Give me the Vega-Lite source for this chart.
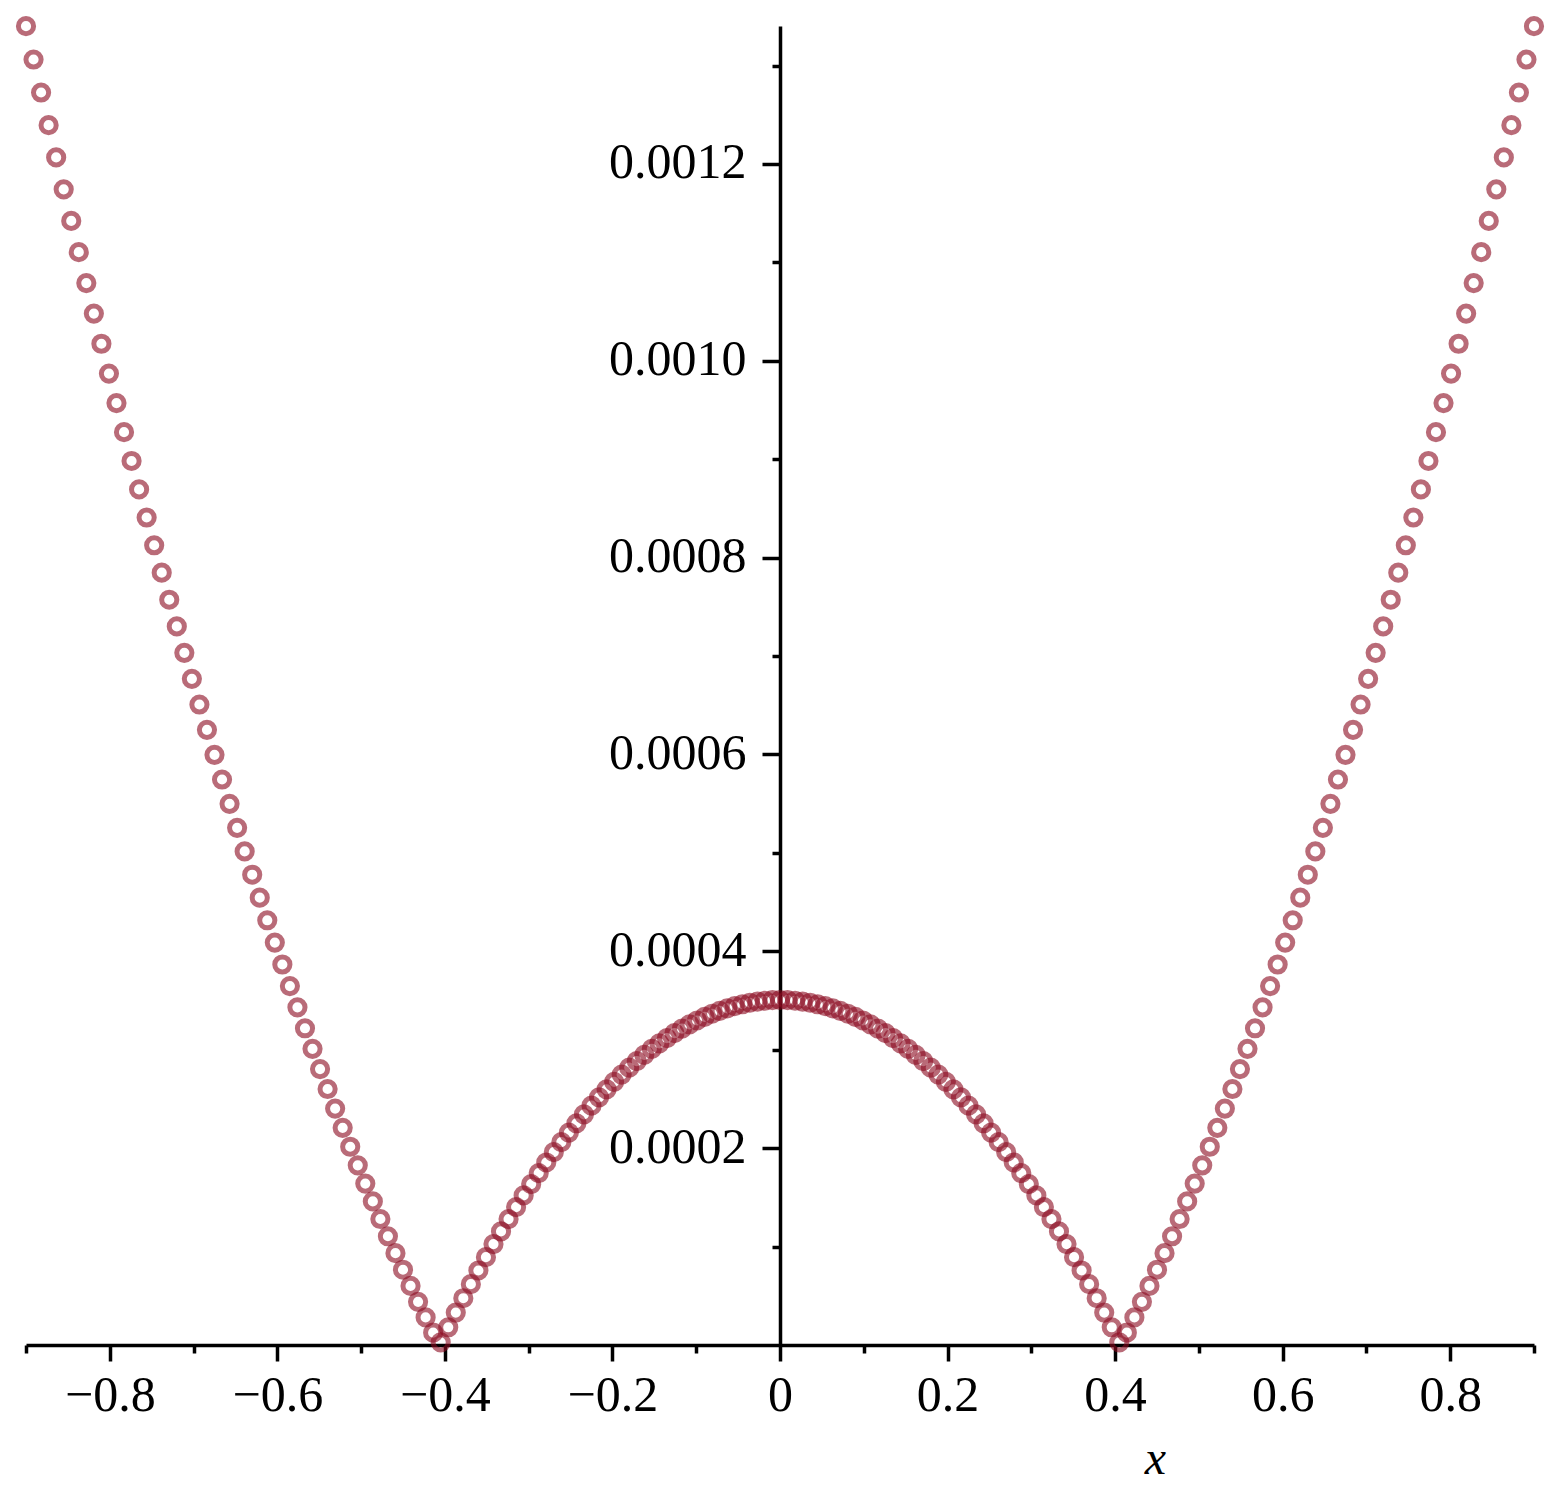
{
  "$schema": "https://vega.github.io/schema/vega-lite/v6.json",
  "width": 1508,
  "height": 1319,
  "autosize": {"type": "none"},
  "padding": {"left": 26, "top": 26, "right": 25, "bottom": 147},
  "background": "white",
  "config": {"view": {"stroke": null}},
  "data": {"values": [
    {"x":-0.9,"y":0.00134002},{"x":-0.891,"y":0.00130614},{"x":-0.882,"y":0.00127262},{"x":-0.873,"y":0.00123946},{"x":-0.864,"y":0.00120666},
    {"x":-0.855,"y":0.00117421},{"x":-0.846,"y":0.00114213},{"x":-0.837,"y":0.00111039},{"x":-0.828,"y":0.00107902},{"x":-0.819,"y":0.001048},
    {"x":-0.81,"y":0.00101734},{"x":-0.801,"y":0.00098703},{"x":-0.792,"y":0.00095707},{"x":-0.783,"y":0.00092747},{"x":-0.774,"y":0.00089822},
    {"x":-0.765,"y":0.00086932},{"x":-0.756,"y":0.00084078},{"x":-0.747,"y":0.00081258},{"x":-0.738,"y":0.00078474},{"x":-0.729,"y":0.00075725},
    {"x":-0.72,"y":0.00073011},{"x":-0.711,"y":0.00070331},{"x":-0.702,"y":0.00067687},{"x":-0.693,"y":0.00065077},{"x":-0.684,"y":0.00062503},
    {"x":-0.675,"y":0.00059963},{"x":-0.666,"y":0.00057458},{"x":-0.657,"y":0.00054987},{"x":-0.648,"y":0.00052551},{"x":-0.639,"y":0.0005015},
    {"x":-0.63,"y":0.00047784},{"x":-0.621,"y":0.00045451},{"x":-0.612,"y":0.00043154},{"x":-0.603,"y":0.00040891},{"x":-0.594,"y":0.00038662},
    {"x":-0.585,"y":0.00036467},{"x":-0.576,"y":0.00034307},{"x":-0.567,"y":0.00032181},{"x":-0.558,"y":0.0003009},{"x":-0.549,"y":0.00028032},
    {"x":-0.54,"y":0.00026009},{"x":-0.531,"y":0.0002402},{"x":-0.522,"y":0.00022065},{"x":-0.513,"y":0.00020144},{"x":-0.504,"y":0.00018257},
    {"x":-0.495,"y":0.00016404},{"x":-0.486,"y":0.00014585},{"x":-0.477,"y":0.000128},{"x":-0.468,"y":0.00011049},{"x":-0.459,"y":0.00009332},
    {"x":-0.45,"y":0.00007648},{"x":-0.441,"y":0.00005999},{"x":-0.432,"y":0.00004383},{"x":-0.423,"y":0.00002801},{"x":-0.414,"y":0.00001253},
    {"x":-0.405,"y":0.00000271},{"x":-0.396,"y":0.000018},{"x":-0.387,"y":0.00003294},{"x":-0.378,"y":0.00004754},{"x":-0.369,"y":0.0000618},
    {"x":-0.36,"y":0.00007571},{"x":-0.351,"y":0.00008928},{"x":-0.342,"y":0.0001025},{"x":-0.333,"y":0.00011538},{"x":-0.324,"y":0.00012792},
    {"x":-0.315,"y":0.00014012},{"x":-0.306,"y":0.00015196},{"x":-0.297,"y":0.00016347},{"x":-0.288,"y":0.00017464},{"x":-0.279,"y":0.00018546},
    {"x":-0.27,"y":0.00019593},{"x":-0.261,"y":0.00020607},{"x":-0.252,"y":0.00021586},{"x":-0.243,"y":0.0002253},{"x":-0.234,"y":0.00023441},
    {"x":-0.225,"y":0.00024316},{"x":-0.216,"y":0.00025158},{"x":-0.207,"y":0.00025965},{"x":-0.198,"y":0.00026738},{"x":-0.189,"y":0.00027477},
    {"x":-0.18,"y":0.00028181},{"x":-0.171,"y":0.00028851},{"x":-0.162,"y":0.00029486},{"x":-0.153,"y":0.00030087},{"x":-0.144,"y":0.00030654},
    {"x":-0.135,"y":0.00031187},{"x":-0.126,"y":0.00031685},{"x":-0.117,"y":0.00032148},{"x":-0.108,"y":0.00032578},{"x":-0.099,"y":0.00032973},
    {"x":-0.09,"y":0.00033333},{"x":-0.081,"y":0.0003366},{"x":-0.072,"y":0.00033952},{"x":-0.063,"y":0.00034209},{"x":-0.054,"y":0.00034433},
    {"x":-0.045,"y":0.00034622},{"x":-0.036,"y":0.00034776},{"x":-0.027,"y":0.00034896},{"x":-0.018,"y":0.00034982},{"x":-0.009,"y":0.00035034},
    {"x":0,"y":0.00035051},
    {"x":0.009,"y":0.00035034},{"x":0.018,"y":0.00034982},{"x":0.027,"y":0.00034896},{"x":0.036,"y":0.00034776},{"x":0.045,"y":0.00034622},
    {"x":0.054,"y":0.00034433},{"x":0.063,"y":0.00034209},{"x":0.072,"y":0.00033952},{"x":0.081,"y":0.0003366},{"x":0.09,"y":0.00033333},
    {"x":0.099,"y":0.00032973},{"x":0.108,"y":0.00032578},{"x":0.117,"y":0.00032148},{"x":0.126,"y":0.00031685},{"x":0.135,"y":0.00031187},
    {"x":0.144,"y":0.00030654},{"x":0.153,"y":0.00030087},{"x":0.162,"y":0.00029486},{"x":0.171,"y":0.00028851},{"x":0.18,"y":0.00028181},
    {"x":0.189,"y":0.00027477},{"x":0.198,"y":0.00026738},{"x":0.207,"y":0.00025965},{"x":0.216,"y":0.00025158},{"x":0.225,"y":0.00024316},
    {"x":0.234,"y":0.00023441},{"x":0.243,"y":0.0002253},{"x":0.252,"y":0.00021586},{"x":0.261,"y":0.00020607},{"x":0.27,"y":0.00019593},
    {"x":0.279,"y":0.00018546},{"x":0.288,"y":0.00017464},{"x":0.297,"y":0.00016347},{"x":0.306,"y":0.00015196},{"x":0.315,"y":0.00014012},
    {"x":0.324,"y":0.00012792},{"x":0.333,"y":0.00011538},{"x":0.342,"y":0.0001025},{"x":0.351,"y":0.00008928},{"x":0.36,"y":0.00007571},
    {"x":0.369,"y":0.0000618},{"x":0.378,"y":0.00004754},{"x":0.387,"y":0.00003294},{"x":0.396,"y":0.000018},{"x":0.405,"y":0.00000271},
    {"x":0.414,"y":0.00001253},{"x":0.423,"y":0.00002801},{"x":0.432,"y":0.00004383},{"x":0.441,"y":0.00005999},{"x":0.45,"y":0.00007648},
    {"x":0.459,"y":0.00009332},{"x":0.468,"y":0.00011049},{"x":0.477,"y":0.000128},{"x":0.486,"y":0.00014585},{"x":0.495,"y":0.00016404},
    {"x":0.504,"y":0.00018257},{"x":0.513,"y":0.00020144},{"x":0.522,"y":0.00022065},{"x":0.531,"y":0.0002402},{"x":0.54,"y":0.00026009},
    {"x":0.549,"y":0.00028032},{"x":0.558,"y":0.0003009},{"x":0.567,"y":0.00032181},{"x":0.576,"y":0.00034307},{"x":0.585,"y":0.00036467},
    {"x":0.594,"y":0.00038662},{"x":0.603,"y":0.00040891},{"x":0.612,"y":0.00043154},{"x":0.621,"y":0.00045451},{"x":0.63,"y":0.00047784},
    {"x":0.639,"y":0.0005015},{"x":0.648,"y":0.00052551},{"x":0.657,"y":0.00054987},{"x":0.666,"y":0.00057458},{"x":0.675,"y":0.00059963},
    {"x":0.684,"y":0.00062503},{"x":0.693,"y":0.00065077},{"x":0.702,"y":0.00067687},{"x":0.711,"y":0.00070331},{"x":0.72,"y":0.00073011},
    {"x":0.729,"y":0.00075725},{"x":0.738,"y":0.00078474},{"x":0.747,"y":0.00081258},{"x":0.756,"y":0.00084078},{"x":0.765,"y":0.00086932},
    {"x":0.774,"y":0.00089822},{"x":0.783,"y":0.00092747},{"x":0.792,"y":0.00095707},{"x":0.801,"y":0.00098703},{"x":0.81,"y":0.00101734},
    {"x":0.819,"y":0.001048},{"x":0.828,"y":0.00107902},{"x":0.837,"y":0.00111039},{"x":0.846,"y":0.00114213},{"x":0.855,"y":0.00117421},
    {"x":0.864,"y":0.00120666},{"x":0.873,"y":0.00123946},{"x":0.882,"y":0.00127262},{"x":0.891,"y":0.00130614},{"x":0.9,"y":0.00134002}
  ]},
  "mark": {"type": "point", "shape": "circle", "filled": false, "size": 230, "strokeWidth": 5, "color": "#8b0a20", "opacity": 0.6},
  "encoding": {
    "x": {
      "field": "x", "type": "quantitative",
      "scale": {"domain": [-0.9, 0.9], "nice": false, "zero": false},
      "axis": {
        "orient": "bottom",
        "values": [-0.9,-0.8,-0.7,-0.6,-0.5,-0.4,-0.3,-0.2,-0.1,0,0.1,0.2,0.3,0.4,0.5,0.6,0.7,0.8,0.9],
        "format": ".1~f",
        "labelExpr": "abs(round(datum.value*10)) % 2 == 0 ? datum.label : ''",
        "grid": false,
        "domainColor": "black", "domainWidth": 3.5,
        "tickColor": "black", "tickWidth": 3.5,
        "tickSize": {"condition": {"test": "abs(round(datum.value*10)) % 2 == 0", "value": 16}, "value": 8},
        "labelFont": "Liberation Serif", "labelFontSize": 50, "labelColor": "black",
        "labelBaseline": "alphabetic", "labelPadding": 49,
        "labelOverlap": false, "labelFlush": false,
        "title": "x",
        "titleFont": "Liberation Serif", "titleFontStyle": "italic", "titleFontWeight": "normal",
        "titleFontSize": 48, "titleColor": "black",
        "titleX": 1129, "titleY": 128, "titleBaseline": "alphabetic", "titleAlign": "center", "titleAnchor": null
      }
    },
    "y": {
      "field": "y", "type": "quantitative",
      "scale": {"domain": [0, 0.0013402], "nice": false, "zero": true},
      "axis": {
        "orient": "left",
        "offset": -754,
        "values": [0.0001,0.0002,0.0003,0.0004,0.0005,0.0006,0.0007,0.0008,0.0009,0.001,0.0011,0.0012,0.0013],
        "format": ".4f",
        "labelExpr": "round(datum.value*10000) % 2 == 0 ? datum.label : ''",
        "grid": false,
        "domainColor": "black", "domainWidth": 3.5,
        "tickColor": "black", "tickWidth": 3.5,
        "tickSize": {"condition": {"test": "round(datum.value*10000) % 2 == 0", "value": 18}, "value": 8},
        "labelFont": "Liberation Serif", "labelFontSize": 50, "labelColor": "black",
        "labelBaseline": "alphabetic", "labelOffset": 14, "labelPadding": 16,
        "labelOverlap": false, "labelFlush": false,
        "title": null
      }
    }
  }
}
